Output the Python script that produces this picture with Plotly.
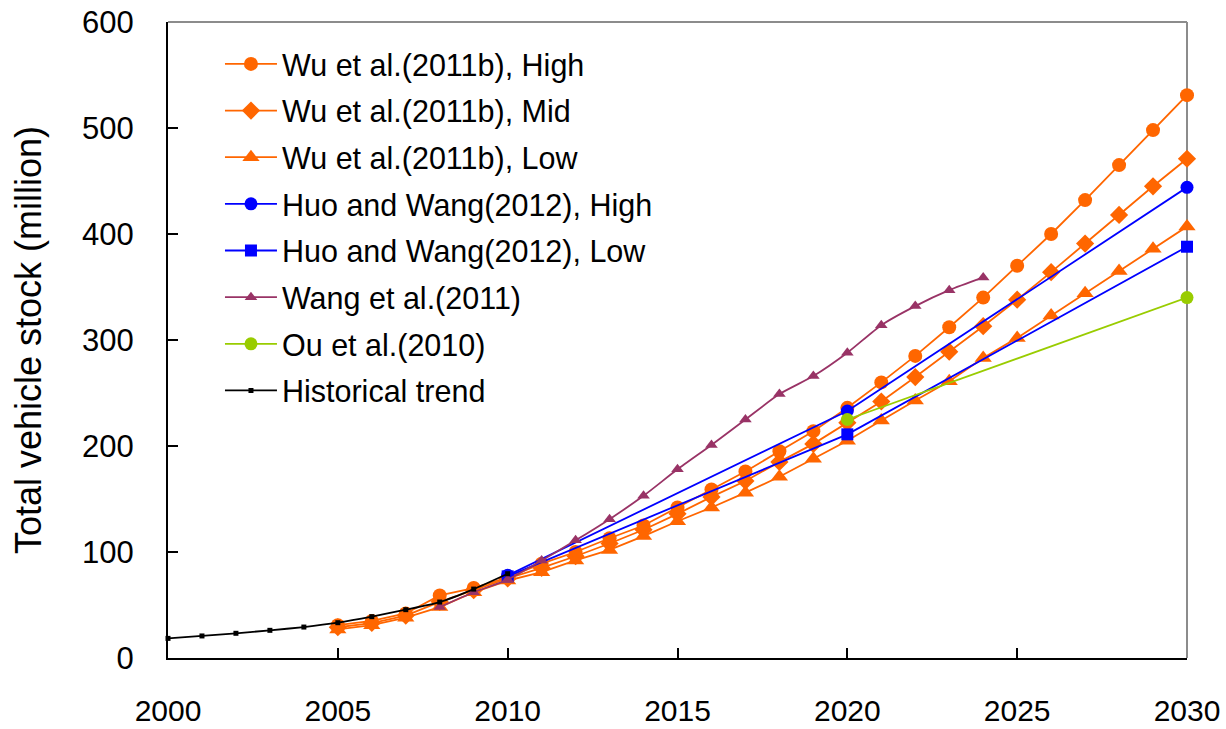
import plotly.graph_objects as go

# ---- data (million vehicles) ----
hist_years = list(range(2000, 2011))
hist_stock = [18.5, 20.8, 23.3, 26.1, 29.2, 33.3, 39.0, 45.6, 52.8, 65.0, 79.5]

wu_years = list(range(2005, 2031))
wu_high = [31, 35, 42, 59, 66, 76, 89, 100, 113, 125, 142, 159, 176, 195, 214,
           236, 260, 285, 312, 340, 370, 400, 432, 465, 498, 531]
wu_mid = [29, 33, 40, 53, 64, 75, 85, 96, 108, 121, 136, 152, 167, 185, 202,
          222, 242, 265, 289, 313, 338, 364, 391, 418, 445, 471]
wu_low = [27, 31, 38, 48, 62, 73, 81, 92, 102, 115, 129, 142, 156, 171, 188,
          205, 224, 243, 261, 283, 302, 323, 344, 365, 386, 407]

huo_years = [2010, 2020, 2030]
huo_high = [78, 233, 444]
huo_low = [77, 211, 388]

wang_years = list(range(2008, 2025))
wang_stock = [48, 62, 74, 92, 111, 131, 153, 178, 201, 225, 249, 266, 288,
              314, 332, 347, 359]

ou_years = [2020, 2030]
ou_stock = [225, 340]

x_ticks = [2000, 2005, 2010, 2015, 2020, 2025, 2030]
y_ticks = [0, 100, 200, 300, 400, 500, 600]

ORANGE = "#FF6600"
BLUE = "#0000FF"
PURPLE = "#993366"
GREEN = "#99CC00"

FONT = "Arial, Liberation Sans, sans-serif"

series = [
    ("Wu et al.(2011b), High", wu_years, wu_high, ORANGE, "circle", 14, "linear"),
    ("Wu et al.(2011b), Mid", wu_years, wu_mid, ORANGE, "diamond", 14, "linear"),
    ("Wu et al.(2011b), Low", wu_years, wu_low, ORANGE, "triangle-up", 15, "linear"),
    ("Huo and Wang(2012), High", huo_years, huo_high, BLUE, "circle", 13, "linear"),
    ("Huo and Wang(2012), Low", huo_years, huo_low, BLUE, "square", 12, "linear"),
    ("Wang et al.(2011)", wang_years, wang_stock, PURPLE, "triangle-up", 11, "spline"),
    ("Ou et al.(2010)", ou_years, ou_stock, GREEN, "circle", 13, "linear"),
    ("Historical trend", hist_years, hist_stock, "#000000", "square", 5, "spline"),
]

fig = go.Figure()
for i, (name, xs, ys, color, symbol, size, shape) in enumerate(series):
    fig.add_trace(go.Scatter(
        x=xs, y=ys, name=name, mode="lines+markers",
        legendgroup=f"g{i}",
        line=dict(color=color, width=1.8, shape=shape, smoothing=0.6),
        marker=dict(color=color, symbol=symbol, size=size, line=dict(width=0)),
        cliponaxis=False,
    ))

fig.update_layout(
    width=1226, height=729,
    margin=dict(l=168, r=39, t=22, b=71, autoexpand=False),
    paper_bgcolor="white", plot_bgcolor="white",
    font=dict(family=FONT, size=30, color="black"),
    showlegend=True,
    legend=dict(
        x=0.051, y=0.9755, xanchor="left", yanchor="top",
        bgcolor="rgba(0,0,0,0)", borderwidth=0,
        font=dict(family=FONT, size=30.5, color="black"),
        tracegroupgap=4, itemwidth=52,
    ),
    xaxis=dict(
        range=[2000, 2030], tickvals=x_ticks, ticktext=[str(v) for v in x_ticks],
        ticks="inside", ticklen=10, tickwidth=1.5, tickcolor="black",
        showline=True, linecolor="black", linewidth=2,
        showgrid=False, zeroline=False, ticklabelstandoff=25,
        tickfont=dict(family=FONT, size=30), automargin=False,
    ),
    yaxis=dict(
        range=[0, 600], tickvals=y_ticks, ticktext=[str(v) for v in y_ticks],
        ticks="inside", ticklen=10, tickwidth=1.5, tickcolor="black",
        showline=True, linecolor="black", linewidth=2,
        showgrid=False, zeroline=False, ticklabelstandoff=26,
        tickfont=dict(family=FONT, size=31), automargin=False,
        title=dict(text="Total vehicle stock (million)",
                   font=dict(family=FONT, size=36), standoff=29),
    ),
)

# light grey frame on the top and right sides of the plot area
fig.add_shape(type="line", xref="paper", yref="paper", x0=0, x1=1, y0=1, y1=1,
              line=dict(color="#8C8C8C", width=2), layer="below")
fig.add_shape(type="line", xref="paper", yref="paper", x0=1, x1=1, y0=0, y1=1,
              line=dict(color="#8C8C8C", width=2), layer="below")

fig.write_html("out.html")
